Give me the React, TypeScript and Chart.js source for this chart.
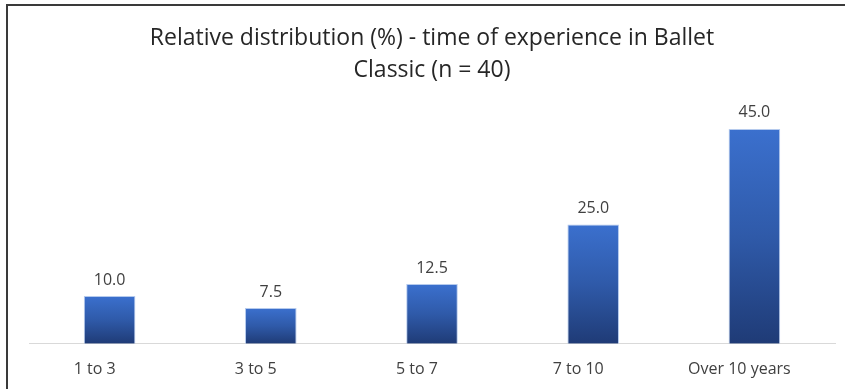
import React, { useEffect, useRef } from 'react';
import { Chart, registerables } from 'chart.js';

Chart.register(...registerables);

const categories = ['1 to 3', '3 to 5', '5 to 7', '7 to 10', 'Over 10 years'];
const values = [10.0, 7.5, 12.5, 25.0, 45.0];
const titleLines = ['Relative distribution (%) - time of experience in Ballet', 'Classic (n = 40)'];
const yMax = 50;

export default function App() {
  const ref = useRef<HTMLCanvasElement>(null);

  useEffect(() => {
    document.body.style.margin = '0';
    const canvas = ref.current!;

    const frame = {
      id: 'frame',
      beforeDraw(chart: any) {
        const c = chart.ctx;
        c.save();
        c.fillStyle = '#ffffff';
        c.fillRect(0, 0, chart.width, chart.height);
        c.fillStyle = '#3a3a3a';
        c.fillRect(6, 4, chart.width - 6, 2);
        c.fillRect(6, 4, 2, chart.height - 4);
        c.restore();
      },
    };

    const valueLabels = {
      id: 'valueLabels',
      afterDatasetsDraw(chart: any) {
        const c = chart.ctx;
        const meta = chart.getDatasetMeta(0);
        c.save();
        c.font = '16px "Open Sans"';
        c.fillStyle = '#404040';
        c.textAlign = 'center';
        c.textBaseline = 'middle';
        meta.data.forEach((bar: any, i: number) => {
          c.fillText(values[i].toFixed(1), bar.x, bar.y - 16);
        });
        c.restore();
      },
    };

    const chart = new Chart(canvas, {
      type: 'bar',
      data: {
        labels: categories,
        datasets: [
          {
            data: values,
            backgroundColor: (ctx: any) => {
              const ch = ctx.chart;
              if (!ch.chartArea || !ch.scales.y || ctx.parsed == null) return '#2e5aa8';
              const y = ch.scales.y;
              const top = y.getPixelForValue(ctx.parsed.y);
              const bottom = y.getPixelForValue(0);
              if (!isFinite(top) || !isFinite(bottom) || top === bottom) return '#2e5aa8';
              const g = ch.ctx.createLinearGradient(0, top, 0, bottom);
              g.addColorStop(0, '#3b70ce');
              g.addColorStop(0.5, '#2f5aa9');
              g.addColorStop(1, '#1f3b76');
              return g;
            },
            borderColor: 'rgba(150,180,230,0.7)',
            borderWidth: 1,
            barPercentage: 0.32,
            categoryPercentage: 1,
          },
        ],
      },
      options: {
        responsive: false,
        animation: false,
        layout: { padding: { left: 29, right: 10, top: 0, bottom: -6 } },
        plugins: {
          legend: { display: false },
          tooltip: { enabled: false },
          title: {
            display: true,
            text: titleLines,
            fullSize: false,
            color: '#262626',
            font: { family: 'Open Sans', size: 23, weight: 'normal', lineHeight: 32 / 23 },
            padding: { top: 22, bottom: 19 },
          },
        },
        scales: {
          x: {
            grid: { display: false, drawTicks: false },
            border: { display: true, color: '#d9d9d9', width: 1 },
            ticks: {
              color: '#404040',
              font: { family: 'Open Sans', size: 16 },
              padding: 16,
              labelOffset: -15,
            },
          },
          y: { display: false, min: 0, max: yMax },
        },
      },
      plugins: [frame, valueLabels],
    } as any);

    return () => chart.destroy();
  }, []);

  return <canvas ref={ref} width={845} height={389} style={{ display: 'block' }} />;
}
